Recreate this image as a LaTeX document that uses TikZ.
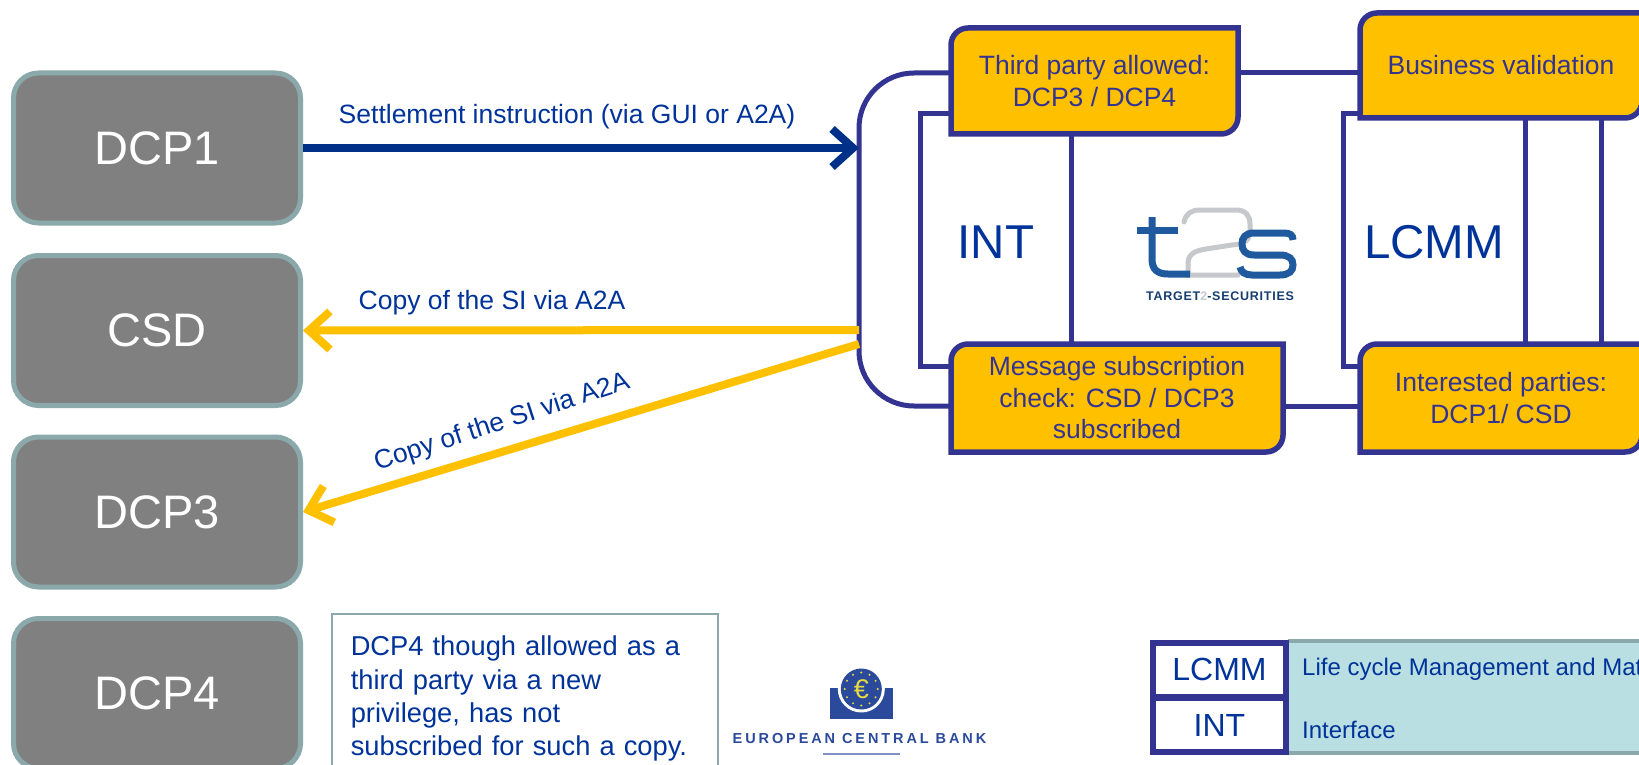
\documentclass[tikz,border=0pt]{standalone}
\usepackage{fontspec}
\setmainfont{Liberation Sans}
\newfontfamily\spacedbold[LetterSpace=20]{Liberation Sans Bold}
\newfontfamily\logobold[LetterSpace=6]{Liberation Sans Bold}
\usetikzlibrary{arrows.meta}
\definecolor{inkblue}{HTML}{333391}
\definecolor{textblue}{HTML}{003399}
\definecolor{arrownavy}{HTML}{003087}
\definecolor{amber}{HTML}{FFC000}
\definecolor{slategrey}{HTML}{8BA8AB}
\definecolor{paleteal}{HTML}{B9DFE3}
\definecolor{logoblue}{HTML}{1F5A9E}
\definecolor{logogrey}{HTML}{C6C8CC}
\definecolor{ecbblue}{HTML}{2B4A9B}
\definecolor{euroyellow}{HTML}{E8DC3C}
\tikzset{
  actor/.style={draw=slategrey,line width=5pt,fill=black!50,rounded corners=25pt,
    minimum width=287pt,minimum height=150pt,inner sep=0pt,text=white,font=\fontsize{47}{52}\selectfont},
  wire/.style={draw=inkblue,line width=5pt},
  stepoutline/.style={draw=inkblue,line width=5.5pt,fill=amber,line join=miter},
  steptext/.style={inner sep=0pt,outer sep=0pt,text=inkblue,align=center,font=\fontsize{26.5}{31.5}\selectfont},
  modlabel/.style={inner sep=0pt,text=textblue,font=\fontsize{47.5}{52}\selectfont},
  flowlabel/.style={inner sep=0pt,text=textblue,font=\fontsize{26.5}{30}\selectfont},
  navyflow/.style={draw=arrownavy,line width=8pt,-{Straight Barb[length=21pt,width=38pt,line width=8pt]}},
  amberflow/.style={draw=amber,line width=8pt,-{Straight Barb[length=21pt,width=38pt,line width=8pt]}},
  legendkey/.style={draw=inkblue,line width=6.5pt,fill=white,inner sep=0pt,text=textblue,
    minimum width=133pt,minimum height=54pt,font=\fontsize{32}{36}\selectfont},
  legendtext/.style={inner sep=0pt,anchor=west,text=textblue,font=\fontsize{24}{28}\selectfont},
  tlogo/.style={draw=logoblue,line width=7pt,line cap=butt},
  twologo/.style={draw=logogrey,line width=5pt},
}
% name, x1, y1, x2, y2, text
\newcommand{\stepbox}[6]{%
  \path[stepoutline] (#2,#5) [rounded corners=17pt] -- (#2,#3) [sharp corners] -- (#4,#3)
     [rounded corners=17pt] -- (#4,#5) [sharp corners] -- cycle;
  \node[steptext,minimum width={#4pt-#2pt},minimum height={#5pt-#3pt}] (#1) at ({(#2+#4)/2},{(#3+#5)/2}) {#6};
}
\begin{document}
\begin{tikzpicture}[x=1pt,y=-1pt]
\clip (0,0) rectangle (1639,765);
\fill[white] (0,0) rectangle (1639,765);

% actors
\node[actor] (dcpone) at (157,148) {DCP1};
\node[actor] (csd) at (157,330.5) {CSD};
\node[actor] (dcpthree) at (157,512) {DCP3};
\node[actor] (dcpfour) at (157,693.5) {DCP4};

% hub outline
\coordinate (hubtop) at (951,73);
\coordinate (hubbottom) at (951,406);
\coordinate (hubin) at (859,148);
\coordinate (hubcopya) at (859,330);
\coordinate (hubcopyb) at (859,344);
\draw[wire,rounded corners=55pt] (hubtop) -- (859,73) -- (859,406) -- (hubbottom);

% module frames
\coordinate (intnw) at (951,114);
\coordinate (intsw) at (951,366);
\coordinate (lcmmnw) at (1360,114);
\coordinate (lcmmsw) at (1360,366);
\draw[wire,line join=miter] (intnw) -- (920,114) -- (920,366) -- (intsw);
\draw[wire,line join=miter] (lcmmnw) -- (1343,114) -- (1343,366) -- (lcmmsw);

% process steps
\stepbox{third}{951}{28}{1238}{134}{Third party allowed:\\DCP3 / DCP4}
\stepbox{business}{1360}{13}{1642}{118}{Business validation}
\stepbox{message}{951}{344}{1283}{452}{Message subscription\\check: CSD / DCP3\\subscribed}
\stepbox{interested}{1360}{344}{1642}{452}{Interested parties:\\DCP1/ CSD}

% connectors between steps
\draw[wire] (third.east |- hubtop) -- (business.west |- hubtop);
\draw[wire] (message.east |- hubbottom) -- (interested.west |- hubbottom);
\draw[wire] (1071,134) -- (1071,344);
\draw[wire] (1525,118) -- (1525,344);
\draw[wire] (1601,118) -- (1601,344);

% module labels
\node[modlabel] (intlabel) at (996,242) {INT};
\node[modlabel] (lcmmlabel) at (1434,242) {LCMM};

% flows
\draw[navyflow] (dcpone.east) -- (hubin);
\draw[amberflow] (hubcopya) -- (csd.east);
\draw[amberflow] (hubcopyb) -- (dcpthree.east);
\node[flowlabel] (settle) at (567,117) {Settlement instruction (via GUI or A2A)};
\node[flowlabel] (copya) at (492,303) {Copy of the SI via A2A};
\node[flowlabel,rotate=18] (copyb) at (502,423) {Copy of the SI via A2A};

% t2s logo
\draw[twologo,line cap=round] (1184,222) .. controls (1186,213) and (1192,210) .. (1200,210)
  -- (1236,210) .. controls (1246,210) and (1250,216) .. (1250,224) -- (1250,230)
  .. controls (1250,241) and (1244,244) .. (1232,245) -- (1206,249)
  .. controls (1192,251) and (1188,256) .. (1188,264) -- (1188,275) -- (1238,275);
\draw[tlogo] (1137,230) -- (1178,230);
\draw[tlogo] (1152,217) -- (1152,259) .. controls (1152,270) and (1158,274) .. (1168,274) -- (1190,274);
\draw[tlogo] (1293,240) .. controls (1293,235) and (1290,233) .. (1284,233) -- (1254,233) .. controls (1245,233) and (1242,238) .. (1242,244)
  .. controls (1242,250) and (1245,255) .. (1254,255) -- (1280,255)
  .. controls (1289,255) and (1293,259) .. (1293,265) .. controls (1293,271) and (1289,275) .. (1280,275)
  -- (1252,275) .. controls (1245,275) and (1241,272) .. (1240,267);
\node[inner sep=0pt,text=logoblue!70!black,font=\logobold\fontsize{12.5}{14}\selectfont] (t2stext) at (1220,296)
  {TARGET{\color{logogrey}2}-SECURITIES};

% note
\node[draw=slategrey,line width=1.5pt,anchor=north west,minimum width=386pt,minimum height=170pt,
  inner xsep=19pt,inner ysep=8pt,align=left,text=textblue,text width=348pt,
  font=\fontsize{27.3}{33.3}\selectfont] (note) at (331,613)
  {DCP4 though allowed as a\\third party via a new\\privilege, has not\\subscribed for such a copy.};

% ECB logo
\fill[ecbblue] (830,688) rectangle (893,719);
\fill[white] (861.3,689) circle (23.5pt);
\fill[ecbblue] (861.3,689) circle (20.5pt);
\foreach \a in {0,30,...,330}
  \fill[euroyellow] ({861.3+16.5*cos(\a)},{689+16.5*sin(\a)}) circle (1.1pt);
\node[inner sep=0pt,text=euroyellow,font=\fontsize{27}{30}\selectfont] (euro) at (861.3,689) {€};
\node[inner sep=0pt,text=ecbblue,font=\spacedbold\fontsize{14.5}{17}\selectfont] (ecbname) at (859.5,739) {EUROPEAN CENTRAL BANK};
\coordinate (ruleleft) at (823,754);
\coordinate (ruleright) at (900,754);
\draw[ecbblue!60,line width=1.2pt] (ruleleft) -- (ruleright);

% legend
\path[fill=paleteal] (1288,641) rectangle (1645,753);
\coordinate (legnw) at (1288,641);
\coordinate (legne) at (1645,641);
\coordinate (legsw) at (1288,753);
\coordinate (legse) at (1645,753);
\draw[slategrey,line width=4.5pt] (legnw) -- (legne);
\draw[slategrey,line width=4.5pt] (legsw) -- (legse);
\node[legendkey] (keylcmm) at (1219.5,670) {\raisebox{1pt}{LCMM}};
\node[legendkey] (keyint) at (1219.5,725) {\raisebox{-2pt}{INT}};
\node[legendtext] (leglcmm) at (1302,669) {Life cycle Management and Mat};
\node[legendtext] (legint) at (1302,730) {Interface};
\end{tikzpicture}
\end{document}
